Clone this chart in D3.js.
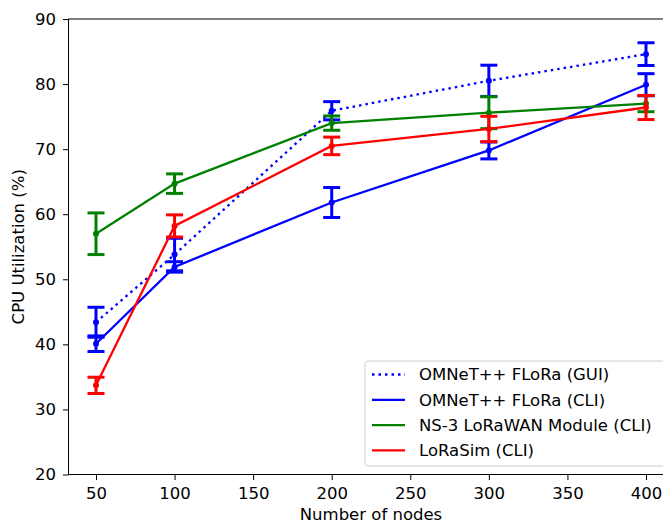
<!DOCTYPE html>
<html>
<head>
<meta charset="UTF-8">
<script src="https://cdn.jsdelivr.net/npm/d3@7"></script>
<style>
  body { margin: 0; background: #fff; }
  svg { display: block; font-family: "DejaVu Sans", sans-serif; }
</style>
</head>
<body>
<div id="chart"></div>
<script>
// data
var nodes = [50, 100, 200, 300, 400];
var seriesNames = ["OMNeT++ FLoRa (GUI)", "OMNeT++ FLoRa (CLI)", "NS-3 LoRaWAN Module (CLI)", "LoRaSim (CLI)"];
var guiMean = [43.4, 53.8, 75.9, 80.5, 84.6];
var guiErr  = [2.3, 2.5, 1.4, 2.4, 1.75];
var cliMean = [40.1, 51.9, 61.8, 69.8, 79.9];
var cliErr  = [1.2, 0.8, 2.3, 1.3, 1.7];
var ns3Mean = [57.0, 64.7, 74.0, 75.6, 77.0];
var ns3Err  = [3.2, 1.5, 1.1, 2.45, 1.25];
var simMean = [33.7, 58.2, 70.5, 73.1, 76.4];
var simErr  = [1.25, 1.7, 1.35, 1.95, 1.85];
var xTicks = [50, 100, 150, 200, 250, 300, 350, 400];
var yTicks = [20, 30, 40, 50, 60, 70, 80, 90];

var colors = ["#0000ff", "#0000ff", "#008000", "#ff0000"];
var dashes = ["2.5,4", null, null, null];

var width = 663, height = 525;
var margin = {left: 68.5, top: 19, bottom: 50.5};
var plotRight = 673.5;
var fs = 16.5;

var svg = d3.select("#chart").append("svg")
  .attr("width", width).attr("height", height);

var x = d3.scaleLinear().domain([32.5, 417.5]).range([margin.left, plotRight]);
var y = d3.scaleLinear().domain([20, 90]).range([height - margin.bottom, margin.top]);

var series = [
  {name: seriesNames[0], mean: guiMean, err: guiErr},
  {name: seriesNames[1], mean: cliMean, err: cliErr},
  {name: seriesNames[2], mean: ns3Mean, err: ns3Err},
  {name: seriesNames[3], mean: simMean, err: simErr}
];

// axes
var xAxis = d3.axisBottom(x).tickValues(xTicks).tickSize(5.5).tickPadding(7.5);
var yAxis = d3.axisLeft(y).tickValues(yTicks).tickSize(5.5).tickPadding(7);

var gx = svg.append("g")
  .attr("transform", "translate(0," + (height - margin.bottom) + ")")
  .call(xAxis);
var gy = svg.append("g")
  .attr("transform", "translate(" + margin.left + ",0)")
  .call(yAxis);
[gx, gy].forEach(function(g) {
  g.selectAll("text").attr("font-size", fs).attr("fill", "#000")
    .attr("font-family", "DejaVu Sans");
  g.selectAll("line").attr("stroke", "#000").attr("stroke-width", 1);
  g.select(".domain").remove();
});

// frame
svg.append("rect")
  .attr("x", margin.left).attr("y", margin.top)
  .attr("width", plotRight - margin.left)
  .attr("height", height - margin.bottom - margin.top)
  .attr("fill", "none").attr("stroke", "#000").attr("stroke-width", 1);

// series
var line = d3.line().x(function(d) { return x(d.x); }).y(function(d) { return y(d.y); });

series.forEach(function(s, k) {
  var pts = nodes.map(function(n, i) { return {x: n, y: s.mean[i], e: s.err[i]}; });
  var g = svg.append("g").attr("stroke", colors[k]).attr("fill", colors[k]);

  g.append("path").datum(pts)
    .attr("d", line).attr("fill", "none")
    .attr("stroke-width", 2.3)
    .attr("stroke-dasharray", dashes[k]);

  var eb = g.selectAll(".eb").data(pts).enter().append("g");
  eb.append("line")
    .attr("x1", function(d) { return x(d.x); }).attr("x2", function(d) { return x(d.x); })
    .attr("y1", function(d) { return y(d.y - d.e); }).attr("y2", function(d) { return y(d.y + d.e); })
    .attr("stroke-width", 3);
  [-1, 1].forEach(function(sgn) {
    eb.append("line")
      .attr("x1", function(d) { return x(d.x) - 8.5; }).attr("x2", function(d) { return x(d.x) + 8.5; })
      .attr("y1", function(d) { return y(d.y + sgn * d.e); }).attr("y2", function(d) { return y(d.y + sgn * d.e); })
      .attr("stroke-width", 3);
  });
  eb.append("circle")
    .attr("cx", function(d) { return x(d.x); }).attr("cy", function(d) { return y(d.y); })
    .attr("r", 3).attr("stroke", "none");
});

// legend
var lg = svg.append("g").attr("transform", "translate(365,361)");
lg.append("rect")
  .attr("x", 0).attr("y", 0).attr("width", 310).attr("height", 105)
  .attr("rx", 3).attr("fill", "#fff").attr("fill-opacity", 0.8)
  .attr("stroke", "#ccc").attr("stroke-width", 1);
seriesNames.forEach(function(name, k) {
  var ry = 13.5 + k * 25.3;
  lg.append("line")
    .attr("x1", 7).attr("x2", 40).attr("y1", ry).attr("y2", ry)
    .attr("stroke", colors[k]).attr("stroke-width", 2.3)
    .attr("stroke-dasharray", dashes[k]);
  lg.append("text")
    .attr("x", 54).attr("y", ry).attr("dy", "0.35em")
    .attr("font-size", fs).attr("fill", "#000")
    .text(name);
});

// axis titles
svg.append("text")
  .attr("x", (margin.left + plotRight) / 2).attr("y", height - 5)
  .attr("text-anchor", "middle").attr("font-size", fs)
  .text("Number of nodes");
svg.append("text")
  .attr("transform", "translate(24," + ((margin.top + height - margin.bottom) / 2) + ") rotate(-90)")
  .attr("text-anchor", "middle").attr("font-size", fs)
  .text("CPU Utilization (%)");
</script>
</body>
</html>
